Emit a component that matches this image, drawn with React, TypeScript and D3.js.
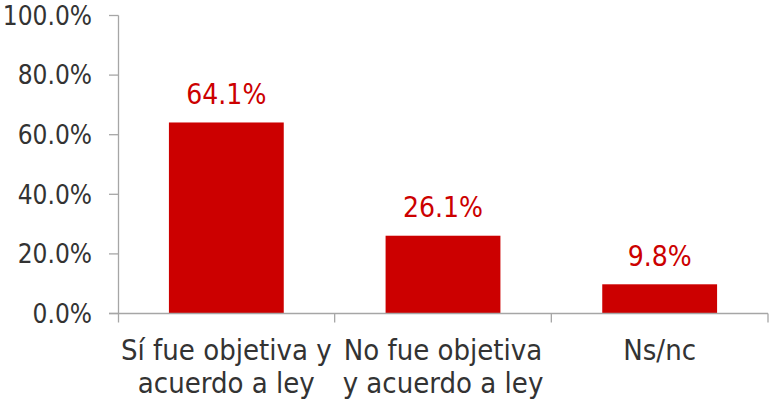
import React from "react";
import * as d3 from "d3";

const categories: string[][] = [
  ["Sí fue objetiva y", "acuerdo a ley"],
  ["No fue objetiva", "y acuerdo a ley"],
  ["Ns/nc"],
];
const values: number[] = [0.641, 0.261, 0.098];
const valueLabels: string[] = ["64.1%", "26.1%", "9.8%"];
const yTicks: number[] = [0, 0.2, 0.4, 0.6, 0.8, 1.0];

const W = 771;
const H = 401;
const FONT = "'DejaVu Sans Condensed', 'DejaVu Sans', sans-serif";
const RED = "#CC0000";
const AXIS = "#a6a6a6";
const TEXT = "#333333";

export default function App() {
  const keys = categories.map((c) => c.join(" "));
  const x = d3.scaleBand<string>().domain(keys).range([118, 768]).padding(0);
  const y = d3.scaleLinear().domain([0, 1]).range([313.5, 15.5]);
  const barW = x.bandwidth() * 0.53;
  const fmt = d3.format(".1%");

  return (
    <svg
      width={W}
      height={H}
      style={{ position: "absolute", left: 0, top: 0, background: "#fff" }}
      fontFamily={FONT}
    >
      {/* bars */}
      {values.map((v, i) => {
        const cx = (x(keys[i]) as number) + x.bandwidth() / 2;
        return (
          <g key={i}>
            <rect
              x={cx - barW / 2}
              y={y(v)}
              width={barW}
              height={y(0) - y(v)}
              fill={RED}
            />
            <text
              x={cx}
              y={y(v) - 18.5}
              textAnchor="middle"
              fontSize={28}
              fill={RED}
            >
              {valueLabels[i]}
            </text>
          </g>
        );
      })}
      {/* y axis */}
      <line x1={118.5} x2={118.5} y1={y(1)} y2={y(0)} stroke={AXIS} strokeWidth={1.3} />
      {yTicks.map((t) => (
        <g key={t}>
          <line x1={109} x2={118.5} y1={y(t)} y2={y(t)} stroke={AXIS} strokeWidth={1.3} />
          <text
            x={92}
            y={y(t)}
            dy="0.36em"
            textAnchor="end"
            fontSize={26}
            fill={TEXT}
          >
            {fmt(t)}
          </text>
        </g>
      ))}
      {/* x axis */}
      <line x1={109} x2={768} y1={y(0)} y2={y(0)} stroke={AXIS} strokeWidth={1.3} />
      {keys.map((k) => (
        <line
          key={k}
          x1={(x(k) as number) + x.bandwidth()}
          x2={(x(k) as number) + x.bandwidth()}
          y1={y(0)}
          y2={y(0) + 9}
          stroke={AXIS}
          strokeWidth={1.3}
        />
      ))}
      <line x1={118.5} x2={118.5} y1={y(0)} y2={y(0) + 9} stroke={AXIS} strokeWidth={1.3} />
      {categories.map((lines, i) => {
        const cx = (x(keys[i]) as number) + x.bandwidth() / 2;
        return (
          <text key={i} textAnchor="middle" fontSize={29} fill={TEXT}>
            {lines.map((l, j) => (
              <tspan key={j} x={cx} y={360 + j * 32.5}>
                {l}
              </tspan>
            ))}
          </text>
        );
      })}
    </svg>
  );
}
